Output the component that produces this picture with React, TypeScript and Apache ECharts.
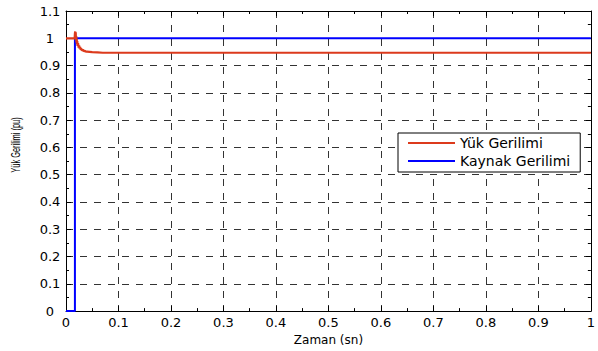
import React, { useEffect, useRef } from "react";
import * as echarts from "echarts";

const xTickLabels = ["0", "0.1", "0.2", "0.3", "0.4", "0.5", "0.6", "0.7", "0.8", "0.9", "1"];
const yTickLabels = ["0", "0.1", "0.2", "0.3", "0.4", "0.5", "0.6", "0.7", "0.8", "0.9", "1", "1.1"];

const seriesNames = ["Yük Gerilimi", "Kaynak Gerilimi"];

// Yük Gerilimi (load voltage), pu
const loadTime = [0, 0.0165, 0.017, 0.0175, 0.018, 0.0185, 0.019, 0.0195, 0.02, 0.0205, 0.021, 0.0215, 0.022, 0.023, 0.024, 0.025, 0.026, 0.027, 0.028, 0.029, 0.03, 0.032, 0.034, 0.036, 0.038, 0.04, 0.045, 0.05, 0.06, 0.07, 0.08, 1];
const loadVoltage = [1, 1, 1.018, 1.025, 1.012, 1.022, 0.995, 1.008, 0.985, 0.998, 0.978, 0.99, 0.972, 0.982, 0.966, 0.974, 0.962, 0.968, 0.958, 0.963, 0.955, 0.958, 0.953, 0.954, 0.951, 0.951, 0.95, 0.949, 0.948, 0.947, 0.947, 0.947];

// Kaynak Gerilimi (source voltage), pu
const sourceTime = [0, 0.017, 0.017, 1];
const sourceVoltage = [0, 0, 1, 1];

const FONT = "'DejaVu Sans', sans-serif";
const FONT2 = "'Liberation Sans', Arial, sans-serif";

export default function App() {
  const ref = useRef<HTMLDivElement>(null);
  useEffect(() => {
    if (!ref.current) return;
    const chart = echarts.init(ref.current, undefined, { renderer: "svg" });
    const loadData = loadTime.map((t, i) => [t, loadVoltage[i]]);
    const sourceData = sourceTime.map((t, i) => [t, sourceVoltage[i]]);
    const baseAxis = {
      type: "value" as const,
      min: 0,
      interval: 0.1,
      axisLine: { show: true, onZero: false, lineStyle: { color: "#000", width: 1 } },
      axisTick: { show: true, inside: true, length: 5, lineStyle: { color: "#000" } },
      minorTick: { show: true, splitNumber: 2, length: 3, lineStyle: { color: "#000" } },
    };
    chart.setOption({
      animation: false,
      backgroundColor: "#fff",
      grid: { left: 66, right: 5, top: 11, bottom: 35, containLabel: false },
      legend: {
        data: seriesNames,
        orient: "vertical",
        left: 398,
        top: 133,
        icon: "rect",
        itemWidth: 47,
        itemHeight: 2,
        itemGap: 4,
        padding: [3, 10, 4, 10],
        borderColor: "#000",
        borderWidth: 1,
        backgroundColor: "#fff",
        borderRadius: 0,
        textStyle: { fontFamily: FONT, fontSize: 14, color: "#000", lineHeight: 14 },
      },
      xAxis: [
        {
          ...baseAxis,
          max: 1,
          position: "bottom",
          axisLabel: {
            show: true,
            fontFamily: FONT,
            fontSize: 13,
            color: "#000",
            margin: 5,
            formatter: (v: number) => xTickLabels[Math.round(v * 10)] ?? "",
          },
          splitLine: { show: true, lineStyle: { color: "#333", type: [7, 7], width: 1 } },
          name: "Zaman (sn)",
          nameLocation: "middle",
          nameGap: 22,
          nameTextStyle: { fontFamily: FONT, fontSize: 12, color: "#000" },
        },
        {
          ...baseAxis,
          max: 1,
          position: "top",
          axisLabel: { show: false },
          splitLine: { show: false },
        },
      ],
      yAxis: [
        {
          ...baseAxis,
          max: 1.1,
          position: "left",
          axisLabel: {
            show: true,
            fontFamily: FONT,
            fontSize: 13,
            color: "#000",
            align: "center",
            margin: 16,
            formatter: (v: number) => yTickLabels[Math.round(v * 10)] ?? "",
          },
          splitLine: { show: true, lineStyle: { color: "#333", type: [7, 7], width: 1 } },
        },
        {
          ...baseAxis,
          max: 1.1,
          position: "right",
          axisLabel: { show: false },
          splitLine: { show: false },
        },
      ],
      graphic: [
        {
          type: "text",
          x: 16,
          y: 145,
          rotation: Math.PI / 2,
          scaleX: 0.62,
          style: {
            text: "Yük Gerilimi (pu)",
            fontFamily: FONT2,
            fontSize: 12,
            fill: "#000",
            align: "center",
            verticalAlign: "middle",
          },
        },
      ],
      series: [
        {
          name: seriesNames[1],
          type: "line",
          data: sourceData,
          showSymbol: false,
          symbol: "none",
          lineStyle: { color: "#0000ff", width: 2 },
          itemStyle: { color: "#0000ff" },
          z: 2,
        },
        {
          name: seriesNames[0],
          type: "line",
          data: loadData,
          showSymbol: false,
          symbol: "none",
          lineStyle: { color: "#dc3a1c", width: 2.2 },
          itemStyle: { color: "#dc3a1c" },
          z: 3,
        },
      ],
    });
    return () => chart.dispose();
  }, []);
  return <div ref={ref} style={{ width: 598, height: 351, position: "absolute", left: 0, top: 0 }} />;
}
